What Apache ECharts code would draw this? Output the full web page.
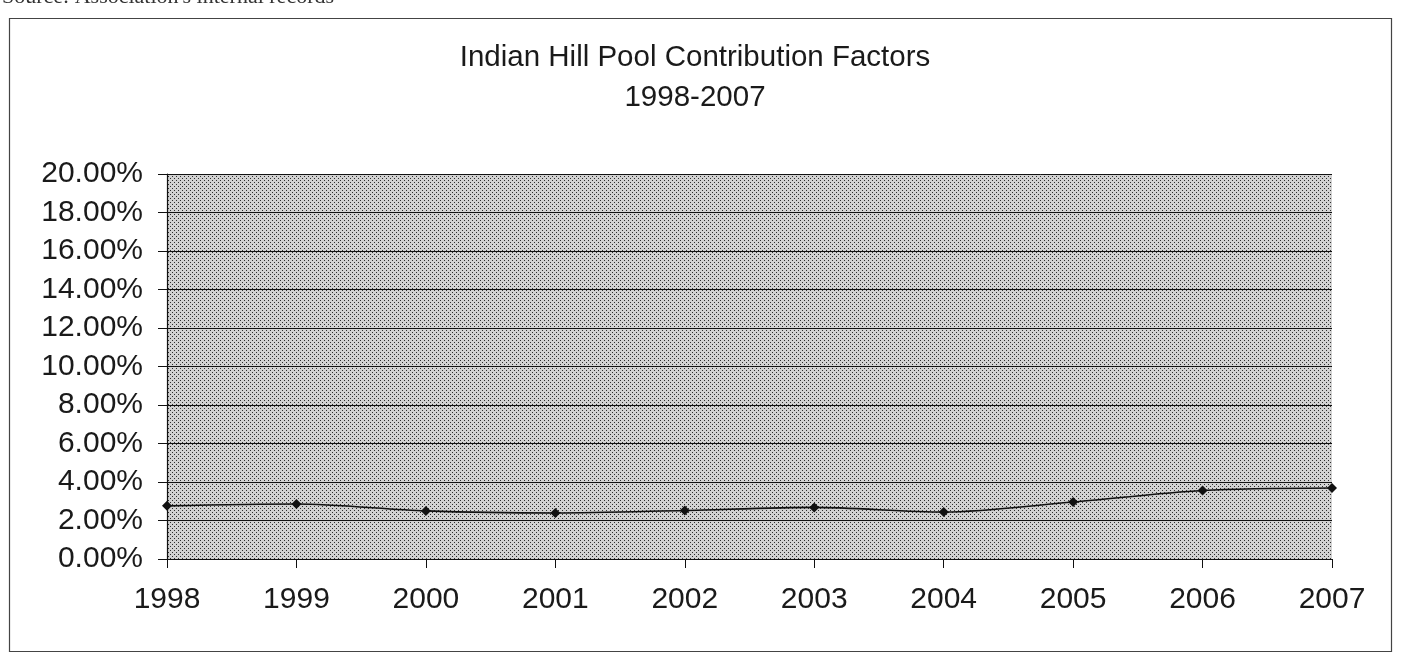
<!DOCTYPE html>
<html>
<head>
<meta charset="utf-8">
<style>
html,body{margin:0;padding:0;background:#fff;}
#chart{width:1401px;height:656px;}
</style>
<script src="https://cdn.jsdelivr.net/npm/echarts@6/dist/echarts.min.js"></script>
</head>
<body>
<div id="chart"></div>
<script>
var years = ['1998','1999','2000','2001','2002','2003','2004','2005','2006','2007'];
var contributionPct = [2.76, 2.86, 2.50, 2.39, 2.52, 2.68, 2.44, 2.96, 3.56, 3.69];
var yTicks = [0, 2, 4, 6, 8, 10, 12, 14, 16, 18, 20];

function makePattern() {
  var c = document.createElement('canvas');
  c.width = 4; c.height = 4;
  var g = c.getContext('2d');
  g.fillStyle = '#d2d2d2';
  g.fillRect(0, 0, 4, 4);
  g.fillStyle = '#2e2e2e';
  g.fillRect(0, 0, 1, 1);
  g.fillRect(2, 2, 1, 1);
  return c;
}

var FONT = 'Liberation Sans, Arial, sans-serif';
var chart = echarts.init(document.getElementById('chart'));
chart.setOption({
  backgroundColor: '#ffffff',
  animation: false,
  title: {
    text: 'Indian Hill Pool Contribution Factors\n1998-2007',
    left: 690,
    textAlign: 'center',
    top: 33,
    textStyle: {
      fontFamily: FONT,
      fontSize: 29.5,
      fontWeight: 'normal',
      color: '#1a1a1a',
      lineHeight: 40
    }
  },
  graphic: [
    {
      type: 'rect',
      shape: { x: 9.5, y: 18.5, width: 1382, height: 633 },
      style: { fill: 'none', stroke: '#444', lineWidth: 1.2 },
      silent: true
    },
    {
      type: 'text',
      left: 2,
      top: -14,
      style: {
        text: "Source: Association's internal records",
        font: '22px "Liberation Serif", "Times New Roman", serif',
        fill: '#333'
      }
    }
  ],
  grid: {
    left: 167,
    right: 69,
    top: 174,
    bottom: 97,
    show: true,
    borderWidth: 0,
    backgroundColor: { image: makePattern(), repeat: 'repeat' }
  },
  xAxis: {
    type: 'category',
    data: years,
    boundaryGap: false,
    axisLine: { show: true, lineStyle: { color: '#111', width: 1.2 } },
    axisTick: { show: true, length: 9, inside: false, lineStyle: { color: '#111' } },
    axisLabel: {
      margin: 26,
      fontFamily: FONT,
      fontSize: 30,
      color: '#1a1a1a'
    },
    splitLine: { show: false }
  },
  yAxis: {
    type: 'value',
    min: 0,
    max: 20,
    interval: 2,
    axisLine: { show: true, lineStyle: { color: '#111', width: 1.2 } },
    axisTick: { show: true, length: 9, lineStyle: { color: '#111' } },
    axisLabel: {
      margin: 24,
      fontFamily: FONT,
      fontSize: 30,
      color: '#1a1a1a',
      formatter: function (v) { return v.toFixed(2) + '%'; }
    },
    splitLine: { show: true, lineStyle: { color: '#111', width: 1 } }
  },
  series: [{
    type: 'line',
    data: contributionPct,
    smooth: 0.3,
    symbol: 'diamond',
    symbolSize: 10,
    itemStyle: { color: '#111' },
    lineStyle: { color: '#111', width: 1.6 }
  }]
});
</script>
</body>
</html>
